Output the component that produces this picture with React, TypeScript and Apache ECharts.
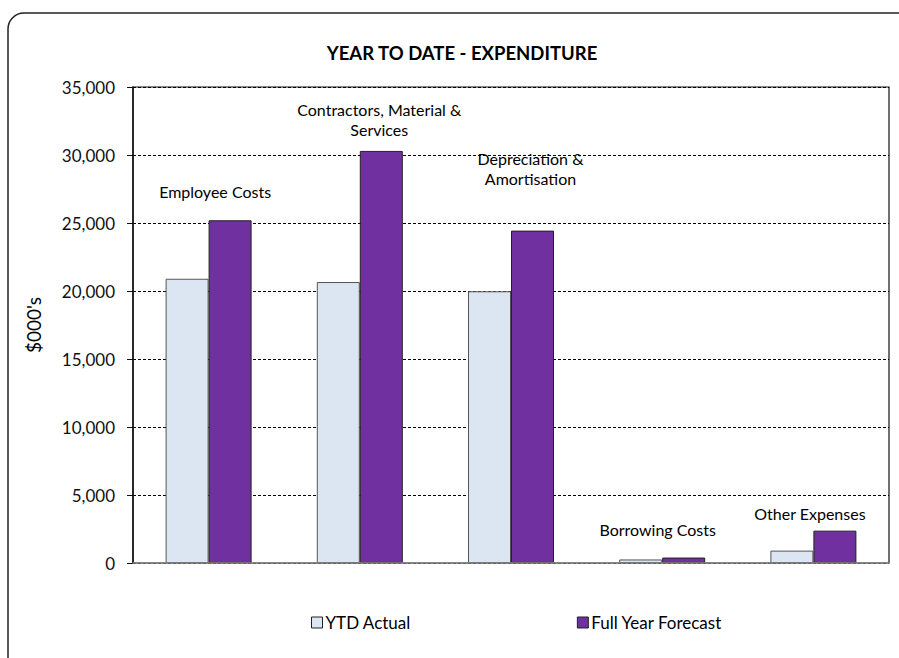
import React, { useEffect, useRef } from "react";
import * as echarts from "echarts";

const categories = [
  "Employee Costs",
  "Contractors, Material & Services",
  "Depreciation & Amortisation",
  "Borrowing Costs",
  "Other Expenses",
];
const categoryLabels = [
  "Employee Costs",
  "Contractors, Material &\nServices",
  "Depreciation &\nAmortisation",
  "Borrowing Costs",
  "Other Expenses",
];
const ytdActual = [20900, 20660, 19980, 260, 910];
const fullYearForecast = [25200, 30300, 24440, 400, 2380];
const yTicks = [0, 5000, 10000, 15000, 20000, 25000, 30000, 35000];

const labelOffsets = [
  [-15, -19],
  [-2, -11],
  [-2, -42],
  [-26, -18],
  [-25, -7],
];

const FONT = "Lato, 'Open Sans', sans-serif";

export default function App() {
  const ref = useRef<HTMLDivElement>(null);
  useEffect(() => {
    if (!ref.current) return;
    const chart = echarts.init(ref.current, undefined, { renderer: "svg" });
    const border = { stroke: "#222", lineWidth: 1.5, fill: "none" };
    chart.setOption({
      animation: false,
      backgroundColor: "#fff",
      textStyle: { fontFamily: FONT, color: "#000" },
      title: {
        text: "YEAR TO DATE - EXPENDITURE",
        left: 457,
        top: 38,
        textAlign: "center",
        textStyle: { fontFamily: FONT, fontSize: 18.5, fontWeight: "bold", color: "#000" },
      },
      graphic: [
        { type: "line", shape: { x1: 8, y1: 29, x2: 8, y2: 700 }, style: border, silent: true, z: 100 },
        { type: "line", shape: { x1: 24, y1: 13, x2: 960, y2: 13 }, style: border, silent: true, z: 100 },
        {
          type: "arc",
          shape: { cx: 24, cy: 29, r: 16, startAngle: Math.PI, endAngle: Math.PI * 1.5, clockwise: true },
          style: border,
          silent: true,
          z: 100,
        },
      ],
      legend: {
        bottom: 22,
        left: 306,
        itemGap: 166,
        itemWidth: 11,
        itemHeight: 11,
        icon: "rect",
        textStyle: { fontFamily: FONT, fontSize: 17, color: "#000", padding: [0, 0, 0, -2] },
        data: [
          { name: "YTD Actual", itemStyle: { color: "#DCE6F2", borderColor: "#222", borderWidth: 1 } },
          { name: "Full Year Forecast", itemStyle: { color: "#7030A0", borderColor: "#222", borderWidth: 1 } },
        ],
      },
      grid: {
        left: 133,
        right: 10,
        top: 87,
        bottom: 95,
        show: true,
        borderColor: "#111",
        borderWidth: 1.2,
        backgroundColor: "transparent",
        outerBoundsMode: "none",
      },
      xAxis: {
        type: "category",
        data: categories,
        axisLine: { show: true, lineStyle: { color: "#888", width: 1.5 } },
        axisTick: { show: false },
        axisLabel: { show: false },
        z: 10,
      },
      yAxis: {
        type: "value",
        min: 0,
        max: yTicks[yTicks.length - 1],
        interval: yTicks[1] - yTicks[0],
        name: "$000's",
        nameLocation: "middle",
        nameGap: 90,
        nameRotate: 90,
        nameTextStyle: { fontFamily: FONT, fontSize: 19, color: "#000" },
        axisLine: { show: true, lineStyle: { color: "#111", width: 1.5 } },
        axisTick: { show: true, length: 6, lineStyle: { color: "#111" } },
        axisLabel: {
          margin: 18,
          fontFamily: FONT,
          fontSize: 17,
          color: "#111",
          formatter: (v: number) => v.toLocaleString("en-US"),
        },
        splitLine: { show: true, lineStyle: { color: "#000", width: 1, type: [3, 2] } },
      },
      series: [
        {
          name: "YTD Actual",
          type: "bar",
          data: ytdActual,
          barWidth: 43,
          barGap: "0%",
          itemStyle: { color: "#DCE6F2", borderColor: "#555", borderWidth: 1 },
        },
        {
          name: "Full Year Forecast",
          type: "bar",
          barWidth: 43,
          barGap: "0%",
          data: fullYearForecast.map((v, i) => ({
            value: v,
            label: { offset: labelOffsets[i] },
          })),
          itemStyle: { color: "#7030A0", borderColor: "#222", borderWidth: 1 },
          label: {
            show: true,
            position: "top",
            distance: 0,
            fontFamily: FONT,
            fontSize: 16,
            lineHeight: 20,
            color: "#000",
            align: "center",
            formatter: (p: any) => categoryLabels[p.dataIndex],
          },
        },
      ],
    });
    return () => chart.dispose();
  }, []);
  return (
    <div
      ref={ref}
      style={{ width: 899, height: 658, position: "fixed", left: 0, top: 0 }}
    />
  );
}
